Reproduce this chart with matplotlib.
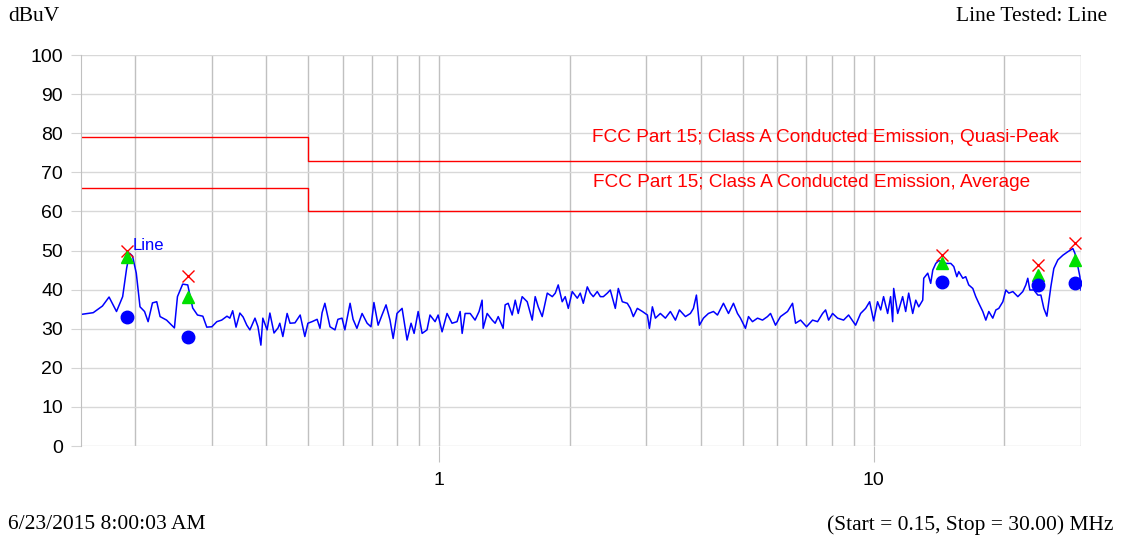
import matplotlib
matplotlib.use("Agg")
import matplotlib.pyplot as plt
from matplotlib.ticker import FixedLocator, NullFormatter, FixedFormatter

# measured trace (MHz, dBuV)
freq_mhz = [
    0.151, 0.160, 0.168, 0.174, 0.181, 0.187, 0.191, 0.194, 0.197, 0.201,
    0.205, 0.210, 0.214, 0.219, 0.224, 0.228, 0.236, 0.246, 0.250, 0.257,
    0.264, 0.271, 0.278, 0.286, 0.292, 0.300, 0.308, 0.316, 0.325, 0.330,
    0.335, 0.341, 0.348, 0.354, 0.361, 0.367, 0.377, 0.383, 0.389, 0.393,
    0.402, 0.408, 0.417, 0.426, 0.430, 0.437, 0.447, 0.454, 0.466, 0.479,
    0.491, 0.499, 0.510, 0.524, 0.532, 0.538, 0.546, 0.561, 0.576, 0.585,
    0.598, 0.607, 0.624, 0.634, 0.647, 0.665, 0.683, 0.697, 0.708, 0.724,
    0.739, 0.755, 0.771, 0.784, 0.800, 0.822, 0.844, 0.862, 0.876, 0.895,
    0.914, 0.938, 0.953, 0.979, 0.995, 1.016, 1.043, 1.071, 1.100, 1.118,
    1.130, 1.148, 1.179, 1.210, 1.236, 1.256, 1.263, 1.290, 1.325, 1.346,
    1.368, 1.404, 1.419, 1.442, 1.473, 1.497, 1.521, 1.553, 1.595, 1.638,
    1.664, 1.691, 1.727, 1.774, 1.822, 1.851, 1.880, 1.920, 1.951, 1.983,
    2.025, 2.080, 2.113, 2.147, 2.193, 2.228, 2.264, 2.312, 2.350, 2.388,
    2.439, 2.477, 2.544, 2.585, 2.640, 2.711, 2.755, 2.799, 2.859, 2.937,
    3.016, 3.048, 3.096, 3.146, 3.230, 3.317, 3.406, 3.498, 3.573, 3.689,
    3.787, 3.848, 3.910, 3.973, 4.058, 4.167, 4.279, 4.371, 4.512, 4.634,
    4.758, 4.860, 4.938, 5.070, 5.152, 5.262, 5.405, 5.550, 5.698, 5.790,
    5.945, 6.105, 6.336, 6.507, 6.611, 6.789, 7.008, 7.235, 7.430, 7.630,
    7.752, 7.876, 8.045, 8.261, 8.528, 8.757, 9.089, 9.333, 9.585, 9.790,
    10.00, 10.21, 10.38, 10.54, 10.77, 10.94, 11.06, 11.12, 11.36, 11.66,
    11.85, 12.04, 12.30, 12.50, 12.70, 12.97, 13.04, 13.32, 13.53, 13.68,
    13.90, 14.12, 14.42, 14.65, 15.05, 15.29, 15.54, 15.70, 16.04, 16.29,
    16.55, 16.91, 17.18, 17.46, 17.83, 18.12, 18.41, 18.80, 19.11, 19.41,
    19.83, 20.15, 20.47, 20.91, 21.47, 22.04, 22.40, 22.63, 22.88, 23.37,
    23.87, 24.26, 24.64, 25.04, 25.57, 25.98, 26.54, 27.26, 27.99, 28.74,
    29.05, 29.51, 29.83, 30.00,
]
level_dbuv = [
    33.7, 34.1, 35.8, 38.1, 34.4, 38.2, 45.5, 49.3, 48.6, 44.2,
    35.6, 34.4, 31.8, 36.6, 36.9, 33.1, 32.2, 30.2, 38.2, 41.4,
    41.2, 35.3, 33.5, 33.2, 30.4, 30.5, 31.8, 32.2, 33.2, 32.7,
    34.6, 30.4, 34.0, 33.0, 30.9, 29.7, 32.7, 30.5, 25.8, 32.7,
    29.7, 34.0, 28.9, 30.2, 31.4, 28.0, 33.9, 31.4, 31.5, 33.5,
    28.0, 31.4, 31.8, 32.4, 30.1, 34.1, 36.5, 30.5, 29.7, 32.4,
    32.7, 29.7, 36.5, 32.4, 30.1, 33.9, 31.4, 30.5, 36.7, 30.9,
    33.5, 36.1, 32.2, 27.5, 33.9, 35.2, 27.1, 31.4, 28.8, 34.4,
    28.8, 29.7, 33.5, 31.8, 33.5, 29.2, 33.9, 31.4, 31.8, 34.4,
    28.8, 33.9, 33.9, 32.2, 34.4, 37.3, 30.1, 33.9, 32.2, 31.4,
    33.1, 30.1, 36.1, 36.5, 33.5, 37.3, 33.9, 38.2, 36.9, 32.2,
    38.2, 35.6, 33.1, 39.1, 38.2, 39.1, 41.2, 36.9, 38.2, 35.2,
    39.5, 37.8, 39.1, 36.5, 40.7, 39.1, 38.2, 39.5, 38.2, 38.2,
    39.1, 39.9, 35.2, 40.3, 36.9, 36.5, 35.2, 33.1, 35.2, 34.4,
    33.5, 30.1, 35.6, 32.7, 33.9, 32.7, 34.4, 32.2, 34.8, 33.1,
    33.9, 35.2, 38.6, 30.9, 32.7, 33.9, 34.4, 33.5, 36.5, 33.9,
    36.5, 33.9, 32.7, 30.1, 33.1, 31.8, 32.7, 32.2, 33.1, 33.9,
    30.9, 33.1, 34.4, 36.5, 31.4, 32.2, 30.5, 32.2, 31.8, 33.9,
    34.8, 32.2, 33.9, 32.7, 32.2, 33.5, 30.9, 33.9, 35.2, 36.9,
    32.0, 36.9, 34.8, 38.2, 33.9, 38.2, 31.8, 40.3, 33.9, 38.2,
    34.4, 39.1, 33.9, 37.3, 35.6, 37.3, 42.9, 44.2, 41.6, 45.0,
    46.7, 47.4, 47.1, 46.7, 46.7, 45.9, 43.3, 44.6, 42.9, 43.3,
    41.2, 40.3, 38.2, 36.5, 34.4, 32.2, 34.4, 32.7, 34.8, 35.2,
    36.9, 39.9, 39.1, 39.5, 38.2, 39.5, 41.2, 42.9, 39.9, 39.9,
    38.6, 38.6, 35.2, 33.2, 40.7, 45.4, 47.6, 48.8, 49.7, 50.5,
    49.3, 45.9, 43.3, 39.9,
]

# limit lines
limit_freq = [0.15, 0.5, 0.5, 30.0]
qp_limit = [79, 79, 73, 73]
avg_limit = [66, 66, 60, 60]

# final measurements
mark_freq = [0.191, 0.264, 14.4, 23.9, 29.0]
mark_peak = [49.9, 43.5, 48.9, 46.3, 51.8]
mark_qp = [48.3, 38.2, 46.7, 43.7, 47.6]
mark_avg = [33.1, 28.0, 42.0, 41.2, 41.8]

plt.rcParams['font.family'] = ['Liberation Sans', 'DejaVu Sans']

fig = plt.figure(figsize=(11.21, 5.41), dpi=100)
ax = fig.add_axes([0.0723, 0.1756, 0.892, 0.7227])

ax.plot(limit_freq, qp_limit, color='red', lw=1.0)
ax.plot(limit_freq, avg_limit, color='red', lw=1.0)
ax.plot(freq_mhz, level_dbuv, color='#0000ff', lw=1.1)

ax.plot(mark_freq, mark_peak, 'x', color='red', ms=9, mew=1.0, ls='none')
ax.plot(mark_freq, mark_qp, '^', color='#00e000', ms=9, ls='none')
ax.plot(mark_freq, mark_avg, 'o', color='#0000ff', ms=9, ls='none')

ax.text(0.197, 51.4, 'Line', color='#0000ff', fontsize=12, va='center', ha='left')
ax.text(0.511, 78.8, 'FCC Part 15; Class A Conducted Emission, Quasi-Peak',
        transform=ax.get_yaxis_transform(), color='red', fontsize=13.7,
        va='center')
ax.text(0.512, 67.5, 'FCC Part 15; Class A Conducted Emission, Average',
        transform=ax.get_yaxis_transform(), color='red', fontsize=13.7,
        va='center')

ax.set_xscale('log')
ax.set_xlim(0.15, 30)
ax.set_ylim(0, 100)
ax.xaxis.set_major_locator(FixedLocator([1, 10]))
ax.xaxis.set_major_formatter(FixedFormatter(['1', '10']))
minors = [0.2, 0.3, 0.4, 0.5, 0.6, 0.7, 0.8, 0.9,
          2, 3, 4, 5, 6, 7, 8, 9, 20, 30]
ax.xaxis.set_minor_locator(FixedLocator(minors))
ax.xaxis.set_minor_formatter(NullFormatter())
ax.set_yticks(range(0, 101, 10))

ax.tick_params(axis='x', which='major', length=11.5, color='#c0c0c0',
               labelsize=14, pad=7)
ax.tick_params(axis='x', which='minor', length=0)
ax.tick_params(axis='y', length=7, color='#d4d4d4', labelsize=14, pad=6)

ax.grid(True, axis='x', which='both', color='#c0c0c0', lw=1.0)
ax.grid(True, axis='y', color='#d8d8d8', lw=1.0)
ax.set_axisbelow(True)
for s in ['top', 'right', 'bottom']:
    ax.spines[s].set_visible(False)
ax.spines['left'].set_color('#c0c0c0')

serif = ['Liberation Serif', 'DejaVu Serif']
fig.text(0.007, 0.969, 'dBuV', family=serif, fontsize=15.5, va='center', ha='left')
fig.text(0.988, 0.969, 'Line Tested: Line', family=serif, fontsize=15.5,
         va='center', ha='right')
fig.text(0.007, 0.030, '6/23/2015 8:00:03 AM', family=serif, fontsize=15.5,
         va='center', ha='left')
fig.text(0.993, 0.030, '(Start = 0.15, Stop = 30.00) MHz', family=serif,
         fontsize=15.5, va='center', ha='right')

fig.savefig('out.png', dpi=100)
